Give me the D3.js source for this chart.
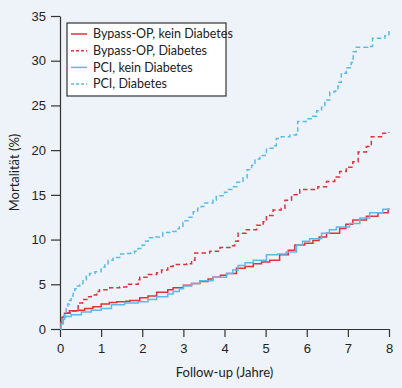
<!DOCTYPE html>
<html>
<head>
<meta charset="utf-8">
<script src="https://cdn.jsdelivr.net/npm/d3@7"></script>
<style>
  body { margin: 0; background: #eef2f9; }
  svg { display: block; font-family: Lato, "Noto Sans", sans-serif; }
</style>
</head>
<body>
<div id="chart"></div>
<script>
// follow-up in years, mortality in %
const bypassNoDiab = [[0,0],[0.02,0.8],[0.05,1.3],[0.11,1.75],[0.23,2.05],[0.44,2.1],[0.6,2.3],[0.8,2.5],[1.0,2.8],[1.2,2.95],[1.38,3.05],[1.6,3.1],[1.7,3.2],[1.94,3.5],[2.14,3.7],[2.35,4.1],[2.62,4.4],[2.75,4.6],[3.0,4.9],[3.2,5.1],[3.4,5.3],[3.6,5.6],[3.72,5.8],[3.9,6.0],[4.05,6.2],[4.29,6.8],[4.5,7.0],[4.7,7.3],[4.9,7.5],[5.1,7.7],[5.34,8.3],[5.55,8.8],[5.71,9.4],[5.95,9.6],[6.15,9.9],[6.3,10.3],[6.48,10.7],[6.8,11.25],[6.95,11.7],[7.12,12.2],[7.45,12.6],[7.73,13.0],[7.98,13.4],[8.0,13.4]];
const bypassDiab = [[0,0],[0.03,0.8],[0.08,1.4],[0.15,1.8],[0.25,2.0],[0.44,2.9],[0.55,3.3],[0.65,3.6],[0.76,3.8],[0.89,4.2],[0.96,4.4],[1.21,4.6],[1.45,4.7],[1.62,5.0],[1.9,5.5],[1.94,5.8],[2.14,6.1],[2.35,6.3],[2.47,6.6],[2.62,7.0],[2.75,7.2],[3.08,7.3],[3.2,7.7],[3.28,8.5],[3.64,8.7],[3.89,9.1],[4.13,9.3],[4.25,9.8],[4.33,10.7],[4.53,11.1],[4.78,11.6],[4.94,12.0],[5.02,12.7],[5.18,13.3],[5.38,13.5],[5.47,14.4],[5.63,15.0],[5.83,15.6],[6.27,15.9],[6.48,16.5],[6.68,17.0],[6.8,17.6],[6.96,18.1],[7.12,18.7],[7.25,19.8],[7.45,20.4],[7.57,21.5],[7.85,21.9],[8.0,22.0]];
const pciNoDiab = [[0,0],[0.03,0.6],[0.08,1.1],[0.11,1.4],[0.27,1.6],[0.52,1.9],[0.76,2.1],[1.0,2.3],[1.25,2.7],[1.57,2.9],[1.9,3.05],[2.14,3.3],[2.35,3.6],[2.62,3.9],[2.75,4.2],[2.9,4.5],[3.0,4.8],[3.2,5.1],[3.4,5.4],[3.72,5.8],[4.05,6.2],[4.2,6.6],[4.33,7.1],[4.5,7.4],[4.7,7.7],[5.02,8.3],[5.3,8.4],[5.5,8.6],[5.75,9.4],[5.9,9.8],[6.07,10.1],[6.36,10.7],[6.55,11.1],[6.72,11.4],[7.04,11.8],[7.29,12.4],[7.53,13.0],[7.85,13.4],[8.0,13.5]];
const pciDiab = [[0,0],[0.03,0.6],[0.06,1.2],[0.11,1.8],[0.15,2.3],[0.19,2.8],[0.23,3.2],[0.27,3.7],[0.32,4.1],[0.36,4.5],[0.42,4.8],[0.48,5.1],[0.56,5.5],[0.64,5.9],[0.72,6.2],[0.85,6.4],[1.0,6.9],[1.09,7.3],[1.17,7.7],[1.29,8.0],[1.45,8.4],[1.6,8.45],[1.72,8.5],[1.81,8.7],[1.9,9.0],[2.0,9.4],[2.06,9.8],[2.14,10.2],[2.33,10.3],[2.5,10.8],[2.74,10.9],[2.82,11.2],[2.9,11.5],[2.99,11.9],[3.04,12.1],[3.11,12.5],[3.24,13.1],[3.35,13.5],[3.43,13.7],[3.52,14.1],[3.72,14.4],[3.8,14.9],[4.0,15.3],[4.1,15.6],[4.2,15.9],[4.3,16.4],[4.45,16.9],[4.55,17.8],[4.66,18.3],[4.74,19.0],[4.86,19.4],[5.02,20.2],[5.18,20.5],[5.26,21.3],[5.38,21.5],[5.59,21.7],[5.75,22.0],[5.78,23.2],[5.99,23.5],[6.15,23.8],[6.24,24.4],[6.36,24.8],[6.44,25.6],[6.56,26.5],[6.68,26.6],[6.76,27.6],[6.84,28.6],[6.96,29.2],[7.08,29.8],[7.13,31.0],[7.2,31.5],[7.48,31.6],[7.6,32.5],[7.9,32.8],[8.0,33.6]];

const seriesNames = ['Bypass-OP, kein Diabetes', 'Bypass-OP, Diabetes', 'PCI, kein Diabetes', 'PCI, Diabetes'];
const xTicks = [0, 1, 2, 3, 4, 5, 6, 7, 8];
const yTicks = [0, 5, 10, 15, 20, 25, 30, 35];

const width = 402;
const height = 388;
const margin = {top: 16, right: 13, bottom: 59, left: 60};

const red = '#e2313b';
const blue = '#5bbbe8';

const series = [
    {name: seriesNames[0], data: bypassNoDiab, color: red, dash: null},
    {name: seriesNames[1], data: bypassDiab, color: red, dash: '4.5,3'},
    {name: seriesNames[2], data: pciNoDiab, color: blue, dash: null},
    {name: seriesNames[3], data: pciDiab, color: blue, dash: '4.5,3'}
];

const svg = d3.select('#chart')
    .append('svg')
        .attr('width', width)
        .attr('height', height);

const x = d3.scaleLinear()
    .domain([0, 8])
    .range([margin.left, width - margin.right]);
const y = d3.scaleLinear()
    .domain([0, 35])
    .range([height - margin.bottom, margin.top]);

// axes
const xAxis = g => g
    .attr('transform', `translate(0,${height - margin.bottom})`)
    .call(d3.axisBottom(x).tickValues(xTicks).tickSize(8).tickSizeOuter(0).tickPadding(7))
    .call(g => g.selectAll('.tick text').style('font-size', '13px').attr('fill', '#222'));
const yAxis = g => g
    .attr('transform', `translate(${margin.left},0)`)
    .call(d3.axisLeft(y).tickValues(yTicks).tickSize(9).tickSizeOuter(0).tickPadding(5))
    .call(g => g.selectAll('.tick text').style('font-size', '13px').attr('fill', '#222'));

svg.append('g').call(xAxis)
    .call(g => g.selectAll('path, line').attr('stroke', '#333').attr('stroke-width', 1.2));
svg.append('g').call(yAxis)
    .call(g => g.selectAll('path, line').attr('stroke', '#333').attr('stroke-width', 1.2));

svg.append('text')
    .attr('x', x(4))
    .attr('y', 377)
    .attr('text-anchor', 'middle')
    .style('font-size', '13px')
    .attr('fill', '#222')
    .text('Follow-up (Jahre)');

svg.append('text')
    .attr('transform', `translate(19,${y(17.5)}) rotate(-90)`)
    .attr('text-anchor', 'middle')
    .style('font-size', '13px')
    .attr('fill', '#222')
    .text('Mortalität (%)');

// step lines
const line = d3.line()
    .curve(d3.curveStepAfter)
    .x(d => x(d[0]))
    .y(d => y(d[1]));

svg.selectAll('.series')
    .data(series)
    .join('path')
        .attr('class', 'series')
        .attr('fill', 'none')
        .attr('stroke', d => d.color)
        .attr('stroke-width', 1.5)
        .attr('stroke-dasharray', d => d.dash)
        .attr('d', d => line(d.data));

// legend
const lg = svg.append('g').attr('transform', 'translate(67,23)');
lg.append('rect')
    .attr('width', 159)
    .attr('height', 73)
    .attr('fill', '#fff')
    .attr('stroke', '#333')
    .attr('stroke-width', 1.2);
const item = lg.selectAll('.item')
    .data(series)
    .join('g')
        .attr('class', 'item')
        .attr('transform', (d, i) => `translate(0,${11 + i * 16.7})`);
item.append('line')
    .attr('x1', 4).attr('x2', 20)
    .attr('stroke', d => d.color)
    .attr('stroke-width', 1.5)
    .attr('stroke-dasharray', d => d.dash ? '3,2' : null);
item.append('text')
    .attr('x', 26)
    .attr('dy', '0.35em')
    .style('font-size', '12.5px')
    .attr('fill', '#222')
    .text(d => d.name);
</script>
</body>
</html>
